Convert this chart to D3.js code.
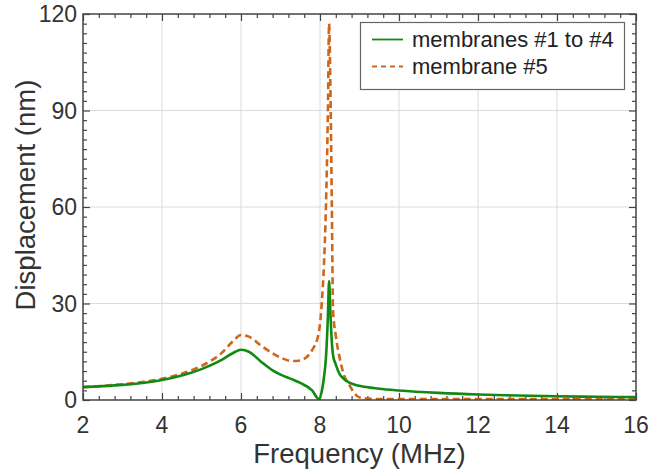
<!DOCTYPE html>
<html>
<head>
<meta charset="utf-8">
<script src="https://cdn.jsdelivr.net/npm/d3@7"></script>
<style>
  body { margin: 0; background: #fff; }
  svg { display: block; font-family: "Liberation Sans", Arial, sans-serif; }
</style>
</head>
<body>
<svg id="chart" width="653" height="474"></svg>
<script>
// ---- data ----
const freq = [2, 2.5, 3, 3.5, 4, 4.5, 5, 5.5, 5.8, 6, 6.2, 6.5, 6.8, 7, 7.3, 7.5, 7.8, 7.97,
              8.05, 8.1, 8.15, 8.2, 8.23, 8.26, 8.3, 8.33, 8.4, 8.5, 8.6, 8.73, 8.85,
              9.0, 9.5, 10, 11, 12, 13, 14, 15, 16];
const membranes1to4 = [4.0, 4.3, 4.7, 5.3, 6.2, 7.6, 9.6, 12.4, 14.6, 15.6, 15.0, 12.0, 9.2, 7.9, 6.4, 5.3, 3.0, 0.3,
                       3, 7, 13, 26, 37, 28, 18, 14, 11, 8, 6.6, 5.5, 4.9,
                       4.4, 3.5, 2.95, 2.2, 1.7, 1.4, 1.15, 1.0, 0.9];
const membrane5 = [4.0, 4.4, 4.9, 5.6, 6.6, 8.2, 10.6, 14.5, 18.3, 20.2, 19.7, 17.0, 14.5, 13.2, 12.1, 12.3, 15.5, 21,
                   31, 42, 60, 90, 117, 100, 60, 28, 20, 13, 8, 5, 2.5,
                   0.8, 0.3, 0.3, 0.3, 0.3, 0.3, 0.3, 0.3, 0.3];
const xTicks = [2, 4, 6, 8, 10, 12, 14, 16];
const yTicks = [0, 30, 60, 90, 120];
const seriesNames = ["membranes #1 to #4", "membrane #5"];

// ---- layout ----
const svg = d3.select("#chart");
const L = 83, R = 636, T = 14, B = 400;
const x = d3.scaleLinear().domain([2, 16]).range([L, R]);
const y = d3.scaleLinear().domain([0, 120]).range([B, T]);
const textCol = "#333";
const green = "#128a12", orange = "#d0661a";

// grid
svg.append("g").selectAll("line").data(xTicks.slice(1, -1)).join("line")
  .attr("x1", d => x(d)).attr("x2", d => x(d)).attr("y1", T).attr("y2", B)
  .attr("stroke", "#dcdcdc").attr("stroke-width", 1);
svg.append("g").selectAll("line").data(yTicks.slice(1, -1)).join("line")
  .attr("y1", d => y(d)).attr("y2", d => y(d)).attr("x1", L).attr("x2", R)
  .attr("stroke", "#dcdcdc").attr("stroke-width", 1);

// axes with inward ticks
const minorX = d3.range(2, 16.001, 0.4).filter(v => Math.abs(v / 2 - Math.round(v / 2)) > 1e-6);
const minorY = d3.range(0, 120.001, 3).filter(v => v % 30 !== 0);

function axisGroup(axisFn, scale, transform, ticks, size) {
  const g = svg.append("g").attr("transform", transform)
    .call(axisFn(scale).tickValues(ticks).tickSize(size).tickFormat(""));
  g.select(".domain").remove();
  g.selectAll(".tick line").attr("stroke", "#444").attr("stroke-width", 1.2);
  return g;
}
axisGroup(d3.axisTop, x, `translate(0,${B})`, xTicks, 7);
axisGroup(d3.axisTop, x, `translate(0,${B})`, minorX, 4);
axisGroup(d3.axisBottom, x, `translate(0,${T})`, xTicks, 7);
axisGroup(d3.axisBottom, x, `translate(0,${T})`, minorX, 4);
axisGroup(d3.axisRight, y, `translate(${L},0)`, yTicks, 7);
axisGroup(d3.axisRight, y, `translate(${L},0)`, minorY, 4);
axisGroup(d3.axisLeft, y, `translate(${R},0)`, yTicks, 7);
axisGroup(d3.axisLeft, y, `translate(${R},0)`, minorY, 4);

// tick labels
svg.append("g").selectAll("text").data(xTicks).join("text")
  .attr("x", d => x(d)).attr("y", 433).attr("text-anchor", "middle")
  .attr("font-size", 23).attr("fill", textCol).text(d => d);
svg.append("g").selectAll("text").data(yTicks).join("text")
  .attr("x", 77).attr("y", d => y(d) + 8.3).attr("text-anchor", "end")
  .attr("font-size", 23).attr("fill", textCol).text(d => d);

// axis titles
svg.append("text").attr("x", (L + R) / 2).attr("y", 463).attr("text-anchor", "middle")
  .attr("font-size", 27.5).attr("fill", textCol).text("Frequency (MHz)");
svg.append("text").attr("transform", "translate(35,195) rotate(-90)").attr("text-anchor", "middle")
  .attr("font-size", 27.5).attr("fill", textCol).text("Displacement (nm)");

// clip
svg.append("clipPath").attr("id", "clip").append("rect")
  .attr("x", L).attr("y", T).attr("width", R - L).attr("height", B - T);

const line = d3.line().x((d, i) => x(freq[i])).y(d => y(d)).curve(d3.curveMonotoneX);

svg.append("path").datum(membrane5).attr("clip-path", "url(#clip)")
  .attr("d", line).attr("fill", "none").attr("stroke", orange)
  .attr("stroke-width", 2.6).attr("stroke-dasharray", "7,4");
svg.append("path").datum(membranes1to4).attr("clip-path", "url(#clip)")
  .attr("d", line).attr("fill", "none").attr("stroke", green)
  .attr("stroke-width", 2.6).attr("stroke-linejoin", "round");

// frame
svg.append("rect").attr("x", L).attr("y", T).attr("width", R - L).attr("height", B - T)
  .attr("fill", "none").attr("stroke", "#444").attr("stroke-width", 1.5);

// legend
const lg = svg.append("g");
lg.append("rect").attr("x", 360.5).attr("y", 22.5).attr("width", 264).attr("height", 67)
  .attr("fill", "#fff").attr("stroke", "#666").attr("stroke-width", 1.2);
const legendRows = [
  { name: seriesNames[0], color: green, dash: null, yy: 39.5 },
  { name: seriesNames[1], color: orange, dash: "5,4", yy: 66.5 }
];
legendRows.forEach(r => {
  lg.append("line").attr("x1", 372).attr("x2", 403).attr("y1", r.yy).attr("y2", r.yy)
    .attr("stroke", r.color).attr("stroke-width", 1.8).attr("stroke-dasharray", r.dash);
  lg.append("text").attr("x", 412).attr("y", r.yy + 7.8).attr("font-size", 22)
    .attr("fill", "#222").text(r.name);
});
</script>
</body>
</html>
